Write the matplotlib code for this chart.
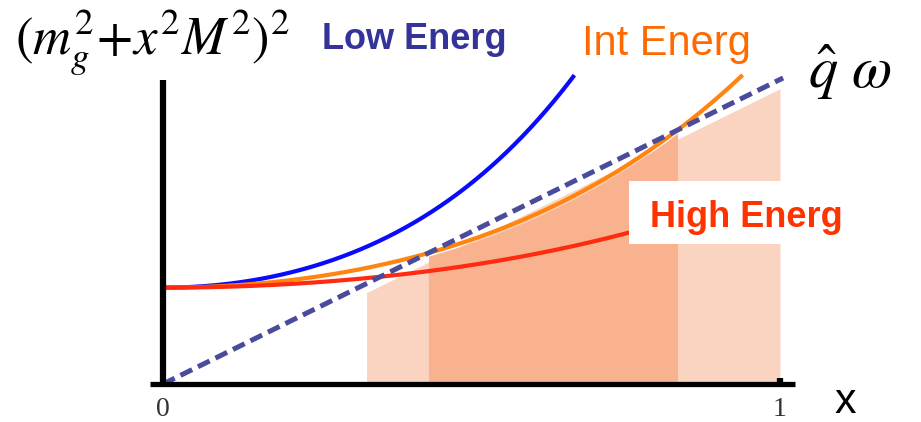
import numpy as np
import matplotlib
matplotlib.use("Agg")
import matplotlib.pyplot as plt
from matplotlib.patches import Rectangle

# gluon mass and the three mass scales M (low / intermediate / high energy)
m_g = 0.75
series_names = ["Low Energ", "Int Energ", "High Energ"]
M_values = [1.0, 0.71, 0.5]
curve_colors = ["#0a0aff", "#ff8410", "#ff2a10"]
label_colors = ["#333399", "#ff6a00", "#ff3300"]

# q-hat * omega reference line (proportional to x)
qw_slope = 1.0
qw_end = 1.005

tick_positions = [0, 1]
tick_labels = ["0", "1"]

light_band = (0.33, 1.0)      # region under the q-hat omega line
y_top = 1.015                  # curves are cut off above this

plt.rcParams["mathtext.fontset"] = "stix"

W, H = 921, 422
fig = plt.figure(figsize=(W / 100, H / 100), dpi=100)
ax = fig.add_axes([0, 0, 1, 1])
ax.set_xlim(-163 / 617, (W - 163) / 617)
ax.set_ylim(-(H - 384) / 304.5, 384 / 304.5)
ax.axis("off")

def px(x, y):
    return x / W, 1 - y / H

def energy_curve(x, M):
    return (m_g ** 2 + x ** 2 * M ** 2) ** 2

x = np.linspace(0, 1, 2000)
qw = qw_slope * x

# light band: below the q-hat omega line
gap = 0.03
xl = np.linspace(light_band[0], light_band[1], 400)
ax.fill_between(xl, 0, qw_slope * xl - gap, color="#fbd3c1", lw=0, zorder=1)

# dark band: under the intermediate curve where it stays below q-hat omega
f_int = energy_curve(x, M_values[1])
inside = f_int <= qw
xd = x[inside]
ax.fill_between(xd, 0, np.minimum(energy_curve(xd, M_values[1]), qw_slope * xd) - 0.01,
                color="#f8b28e", lw=0, zorder=1.5)

# the three (m_g^2 + x^2 M^2)^2 curves
for M, c, z in zip(M_values[::-1], curve_colors[::-1], [2.2, 2.1, 2.0]):
    y = energy_curve(x, M)
    y = np.where(y <= y_top, y, np.nan)
    ax.plot(x, y, color=c, lw=3.0, zorder=z, solid_capstyle="butt")

# q-hat omega dashed line
xq = np.linspace(0, qw_end, 2)
ax.plot(xq, qw_slope * xq, color="#4b4b9c", lw=3.6, dashes=(2.6, 1.3), zorder=3)

# axes drawn by hand
ax.plot([0, 0], [0, (384 - 80) / 304.5], color="black", lw=4.5, zorder=4,
        solid_capstyle="butt", clip_on=False)
ax.plot([-13 / 617, 632 / 617], [0, 0], color="black", lw=3.8, zorder=4,
        solid_capstyle="butt", clip_on=False)
ax.plot([1, 1], [0, 6 / 304.5], color="black", lw=4.5, zorder=4, solid_capstyle="butt")

for t, lab in zip(tick_positions, tick_labels):
    ax.text(t, -32 / 304.5, lab, ha="center", va="baseline", fontsize=20,
            family="Liberation Serif", color="#333333")

# white panel behind the high-energy label
fig.patches.append(Rectangle(px(629, 244), 231 / W, 63 / H, transform=fig.transFigure,
                             facecolor="white", edgecolor="none", zorder=5))

fig.text(*px(15, 54), r"$(m_g^2\!+\!x^2M^2)^2$", fontsize=38, ha="left", va="baseline")
fig.text(*px(322, 49), series_names[0], fontsize=26, fontweight="bold",
         family="Liberation Sans", color=label_colors[0], ha="left", va="baseline")
fig.text(*px(582, 55), series_names[1], fontsize=30, family="Liberation Sans",
         color=label_colors[1], ha="left", va="baseline")
fig.text(*px(650, 227), series_names[2], fontsize=26, fontweight="bold",
         family="Liberation Sans", color=label_colors[2], ha="left", va="baseline", zorder=6)
fig.text(*px(808, 88), r"$\hat{q}\ \omega$", fontsize=42, ha="left", va="baseline")
fig.text(*px(845, 413), "x", fontsize=31, family="Liberation Sans",
         ha="center", va="baseline")

fig.savefig("out.png", dpi=100)
